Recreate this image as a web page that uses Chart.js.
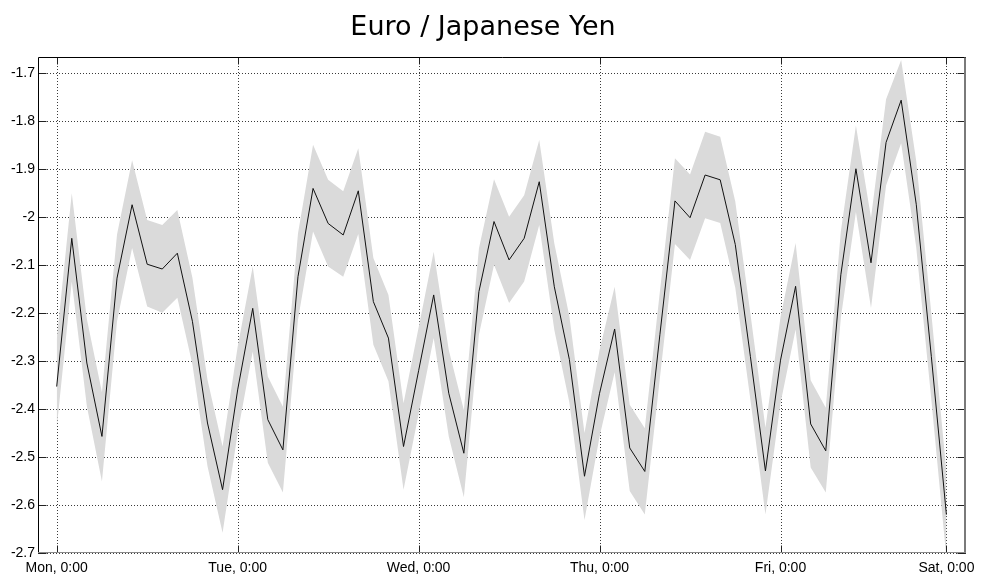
<!DOCTYPE html>
<html>
<head>
<meta charset="utf-8">
<script src="https://cdn.jsdelivr.net/npm/chart.js@4.4.1/dist/chart.umd.min.js"></script>
<style>
  html, body { margin: 0; padding: 0; background: #fff; }
  #wrap { width: 981px; height: 581px; }
</style>
</head>
<body>
<div id="wrap"><canvas id="c" width="981" height="581"></canvas></div>
<script>
// EUR/JPY intraday profile, one sample every two hours from Monday to Saturday 0:00
const chartTitle = 'Euro / Japanese Yen';

const rateMid = [
  -2.353, -2.044, -2.304, -2.457, -2.127, -1.974, -2.098, -2.108, -2.075, -2.217, -2.429, -2.568,
  -2.360, -2.190, -2.422, -2.485, -2.124, -1.940, -2.013, -2.037, -1.945, -2.176, -2.252, -2.478,
  -2.320, -2.162, -2.367, -2.492, -2.155, -2.009, -2.089, -2.044, -1.926, -2.145, -2.297, -2.540,
  -2.367, -2.233, -2.481, -2.530, -2.245, -1.966, -2.001, -1.912, -1.922, -2.057, -2.290, -2.529,
  -2.298, -2.144, -2.431, -2.487, -2.120, -1.899, -2.095, -1.844, -1.756, -1.973, -2.290, -2.620
];

const rateUpper = [
  -2.255, -1.950, -2.212, -2.365, -2.036, -1.881, -2.006, -2.016, -1.985, -2.126, -2.339, -2.478,
  -2.270, -2.103, -2.332, -2.395, -2.034, -1.849, -1.922, -1.946, -1.856, -2.085, -2.162, -2.388,
  -2.230, -2.072, -2.277, -2.402, -2.065, -1.921, -1.999, -1.954, -1.839, -2.055, -2.207, -2.450,
  -2.277, -2.145, -2.391, -2.440, -2.155, -1.877, -1.911, -1.822, -1.832, -1.967, -2.200, -2.439,
  -2.208, -2.054, -2.340, -2.397, -2.030, -1.809, -2.001, -1.754, -1.672, -1.883, -2.200, -2.530
];

const rateLower = [
  -2.440, -2.134, -2.394, -2.551, -2.217, -2.064, -2.186, -2.199, -2.168, -2.307, -2.519, -2.658,
  -2.450, -2.280, -2.512, -2.574, -2.214, -2.030, -2.103, -2.124, -2.035, -2.266, -2.342, -2.568,
  -2.410, -2.252, -2.457, -2.584, -2.245, -2.099, -2.179, -2.134, -2.016, -2.235, -2.387, -2.631,
  -2.457, -2.323, -2.571, -2.620, -2.335, -2.056, -2.089, -2.002, -2.012, -2.147, -2.380, -2.620,
  -2.388, -2.234, -2.522, -2.574, -2.210, -1.989, -2.189, -1.934, -1.846, -2.063, -2.380, -2.710
];

// x positions of the day boundaries (sample index) and their labels
const dayTickSlots = [0, 12, 24, 36, 48, 59];
const dayTickLabels = ['Mon, 0:00', 'Tue, 0:00', 'Wed, 0:00', 'Thu, 0:00', 'Fri, 0:00', 'Sat, 0:00'];

// y tick values and labels
const yTickValues = [-2.7, -2.6, -2.5, -2.4, -2.3, -2.2, -2.1, -2.0, -1.9, -1.8, -1.7];
const yTickLabels = ['-2.7', '-2.6', '-2.5', '-2.4', '-2.3', '-2.2', '-2.1', '-2', '-1.9', '-1.8', '-1.7'];

const toPoints = arr => arr.map((v, i) => ({ x: i, y: v }));

// dotted grid underneath, box, and inward tick marks on top
const framePlugin = {
  id: 'frame',
  beforeDatasetsDraw(chart) {
    const { ctx, chartArea: a, scales: { x, y } } = chart;
    ctx.save();
    ctx.strokeStyle = '#3a3a3a';
    ctx.lineWidth = 1;
    ctx.setLineDash([1, 2]);
    yTickValues.forEach(v => {
      const py = Math.round(y.getPixelForValue(v)) + 0.5;
      ctx.beginPath(); ctx.moveTo(a.left, py); ctx.lineTo(a.right, py); ctx.stroke();
    });
    dayTickSlots.forEach(s => {
      const px = Math.round(x.getPixelForValue(s)) + 0.5;
      ctx.beginPath(); ctx.moveTo(px, a.top); ctx.lineTo(px, a.bottom); ctx.stroke();
    });
    ctx.restore();
  },
  afterDatasetsDraw(chart) {
    const { ctx, chartArea: a, scales: { x, y } } = chart;
    const L = Math.round(a.left) + 0.5, R = Math.round(a.right) - 0.5;
    const T = Math.round(a.top) + 0.5, B = Math.round(a.bottom) - 0.5;
    ctx.save();
    ctx.setLineDash([]);
    ctx.lineWidth = 1;
    // inward tick marks
    ctx.strokeStyle = '#222';
    yTickValues.forEach(v => {
      const py = Math.round(y.getPixelForValue(v)) + 0.5;
      ctx.beginPath(); ctx.moveTo(L, py); ctx.lineTo(L + 8, py); ctx.stroke();
      ctx.beginPath(); ctx.moveTo(R, py); ctx.lineTo(R - 8, py); ctx.stroke();
    });
    dayTickSlots.forEach(s => {
      const px = Math.round(x.getPixelForValue(s)) + 0.5;
      ctx.beginPath(); ctx.moveTo(px, T); ctx.lineTo(px, T + 7); ctx.stroke();
      ctx.beginPath(); ctx.moveTo(px, B); ctx.lineTo(px, B - 7); ctx.stroke();
    });
    // frame
    ctx.strokeStyle = '#000';
    ctx.beginPath(); ctx.moveTo(L, a.bottom); ctx.lineTo(L, T); ctx.lineTo(a.right, T); ctx.stroke();
    ctx.strokeStyle = '#7a7a7a';
    ctx.lineWidth = 2;
    ctx.beginPath(); ctx.moveTo(R - 0.5, T); ctx.lineTo(R - 0.5, a.bottom); ctx.stroke();
    ctx.lineWidth = 1;
    ctx.strokeStyle = '#8a8a8a';
    ctx.beginPath(); ctx.moveTo(a.left, B); ctx.lineTo(a.right, B); ctx.stroke();
    ctx.restore();
  }
};

new Chart(document.getElementById('c'), {
  type: 'line',
  data: {
    datasets: [
      {
        label: 'EUR/JPY',
        data: toPoints(rateMid),
        borderColor: '#111111',
        borderWidth: 1,
        pointRadius: 0,
        tension: 0,
        fill: false,
        order: 0
      },
      {
        label: 'upper',
        data: toPoints(rateUpper),
        borderWidth: 0,
        borderColor: 'rgba(0,0,0,0)',
        backgroundColor: '#dadada',
        pointRadius: 0,
        tension: 0,
        fill: '+1',
        order: 1
      },
      {
        label: 'lower',
        data: toPoints(rateLower),
        borderWidth: 0,
        borderColor: 'rgba(0,0,0,0)',
        backgroundColor: '#dadada',
        pointRadius: 0,
        tension: 0,
        fill: false,
        order: 2
      }
    ]
  },
  options: {
    responsive: false,
    animation: false,
    events: [],
    layout: { padding: { left: 0, right: 15, top: 0, bottom: 0 } },
    plugins: {
      legend: { display: false },
      tooltip: { enabled: false },
      title: {
        display: true,
        text: chartTitle,
        color: '#000',
        font: { family: 'DejaVu Sans', size: 27, weight: 'normal', lineHeight: 1.2 },
        padding: { top: 12, bottom: 12.6 }
      }
    },
    scales: {
      x: {
        type: 'linear',
        min: -1.24,
        max: 60.3,
        grid: { display: false, drawTicks: false },
        border: { display: false },
        afterBuildTicks: s => { s.ticks = dayTickSlots.map(v => ({ value: v })); },
        afterFit: s => { s.height = 28; s.paddingLeft = 0; s.paddingRight = 0; },
        ticks: {
          autoSkip: false,
          maxRotation: 0,
          padding: 7,
          color: '#000',
          font: { family: 'Liberation Sans', size: 14 },
          callback: (v, i) => dayTickLabels[i]
        }
      },
      y: {
        type: 'linear',
        min: -2.7,
        max: -1.666,
        grid: { display: false, drawTicks: false },
        border: { display: false },
        afterBuildTicks: s => { s.ticks = yTickValues.map(v => ({ value: v })); },
        afterFit: s => { s.width = 38; s.paddingTop = 0; s.paddingBottom = 0; },
        ticks: {
          autoSkip: false,
          padding: 3,
          color: '#000',
          font: { family: 'Liberation Sans', size: 14 },
          callback: (v, i) => yTickLabels[i]
        }
      }
    }
  },
  plugins: [framePlugin]
});
</script>
</body>
</html>
